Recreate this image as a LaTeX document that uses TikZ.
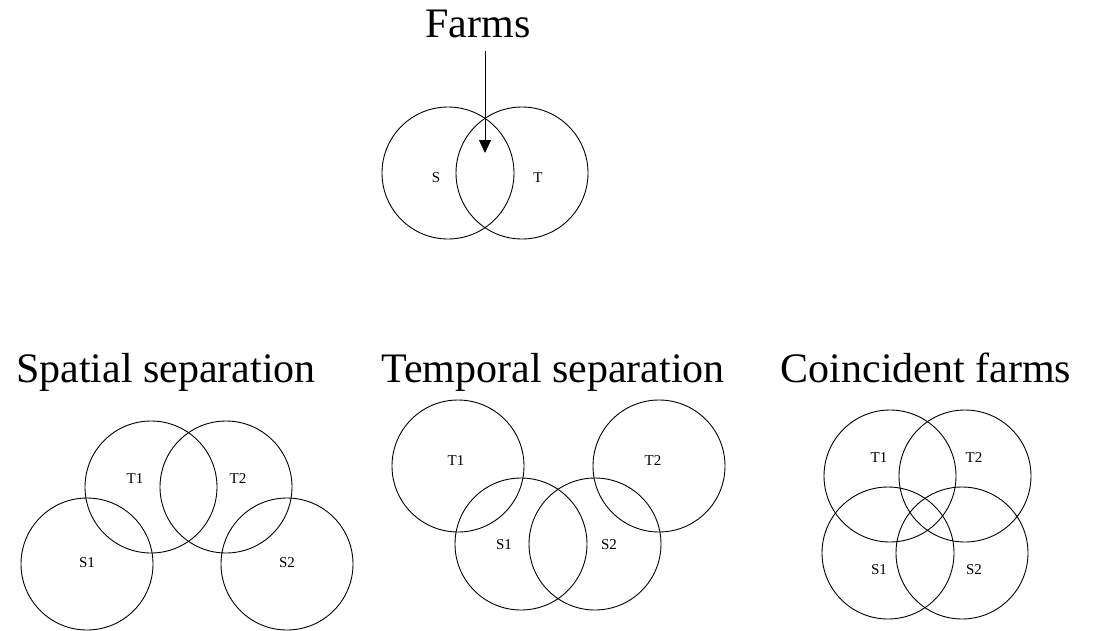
\documentclass[tikz,border=0pt]{standalone}
\usepackage{fontspec}
\setmainfont{Liberation Serif}
\usetikzlibrary{arrows.meta, positioning}

\begin{document}
\begin{tikzpicture}[
    x=1pt, y=-1pt,
    venn/.style={draw, circle, minimum size=132pt, inner sep=0pt, line width=0.9pt},
    lbl/.style={font=\fontsize{15}{17}\selectfont, inner sep=0pt},
    title/.style={font=\fontsize{42}{45}\selectfont, anchor=base, inner sep=0pt},
    >={Triangle[length=13pt, width=12pt]}
  ]
  \useasboundingbox (0,0) rectangle (1095,630);

  % Farms overlap
  \node[title] (farms) at (478,37) {Farms};
  \node[venn] (s) at (448,173) {};
  \node[venn] (t) at (522,173) {};
  \node[lbl] (slbl) at (436,178) {S};
  \node[lbl] (tlbl) at (538,178) {T};
  \coordinate (farmtop) at (485,51);
  \coordinate (farmtip) at (485,153);
  \draw[->, line width=0.8pt] (farmtop) -- (farmtip);

  % Spatial separation
  \node[title] (spatial) at (166,382) {Spatial separation};
  \node[venn] (spT1) at (151,487) {};
  \node[venn] (spT2) at (226,487) {};
  \node[venn] (spS1) at (87,564) {};
  \node[venn] (spS2) at (287,564) {};
  \node[lbl] at (135,479) {T1};
  \node[lbl] at (238,479) {T2};
  \node[lbl] at (87,563) {S1};
  \node[lbl] at (287,563) {S2};

  % Temporal separation
  \node[title] (temporal) at (553,382) {Temporal separation};
  \node[venn] (tpT1) at (458,466) {};
  \node[venn] (tpT2) at (659,466) {};
  \node[venn] (tpS1) at (521,544) {};
  \node[venn] (tpS2) at (595,544) {};
  \node[lbl] at (456,461) {T1};
  \node[lbl] at (653,461) {T2};
  \node[lbl] at (504,545) {S1};
  \node[lbl] at (609,545) {S2};

  % Coincident farms
  \node[title] (coincident) at (926,382) {Coincident farms};
  \node[venn] (coT1) at (890,476) {};
  \node[venn] (coT2) at (965,476) {};
  \node[venn] (coS1) at (888,553) {};
  \node[venn] (coS2) at (962,553) {};
  \node[lbl] at (879,458) {T1};
  \node[lbl] at (974,458) {T2};
  \node[lbl] at (879,570) {S1};
  \node[lbl] at (974,570) {S2};
\end{tikzpicture}
\end{document}
